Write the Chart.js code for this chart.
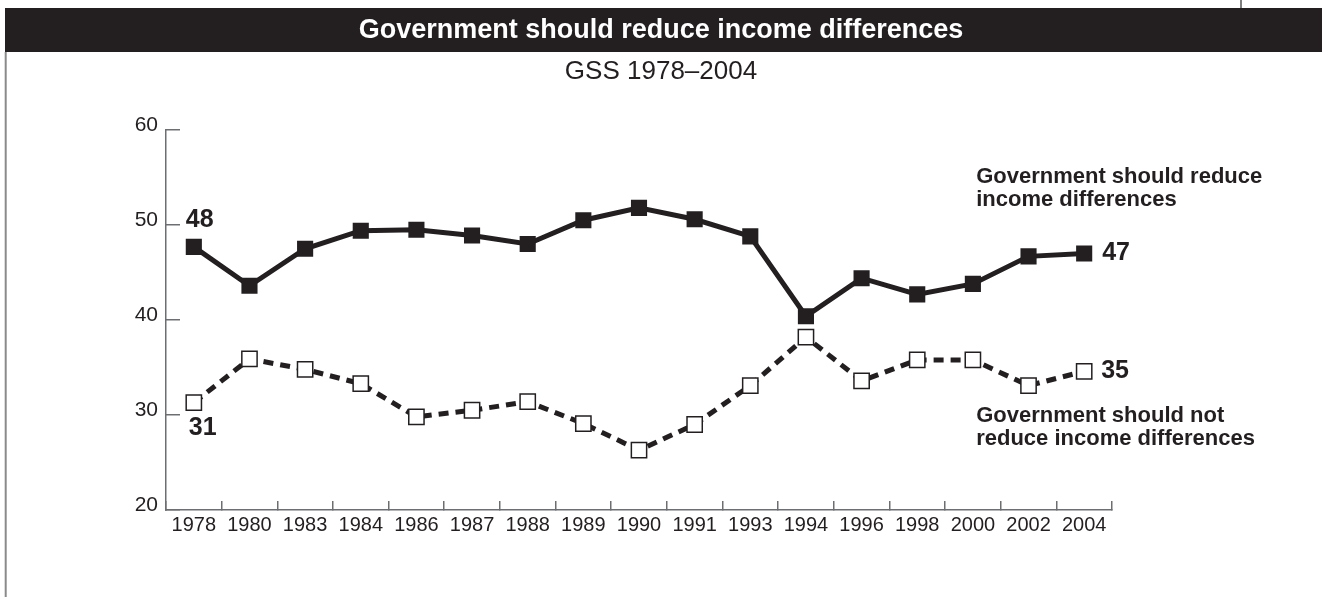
<!DOCTYPE html>
<html>
<head>
<meta charset="utf-8">
<script src="https://cdn.jsdelivr.net/npm/chart.js@4.4.1/dist/chart.umd.min.js"></script>
<style>
  html, body { margin: 0; padding: 0; background: #fff; }
  canvas { display: block; }
</style>
</head>
<body>
<canvas id="gss" width="1322" height="597"></canvas>
<script>
// GSS survey years
var years = ['1978', '1980', '1983', '1984', '1986', '1987', '1988', '1989', '1990',
    '1991', '1993', '1994', '1996', '1998', '2000', '2002', '2004'];

// percent saying government should / should not reduce income differences
var shouldReduce = [47.7, 43.6, 47.5, 49.4, 49.5, 48.9, 48.0, 50.5, 51.8,
    50.6, 48.8, 40.4, 44.4, 42.7, 43.8, 46.7, 47.0];
var shouldNotReduce = [31.3, 35.9, 34.8, 33.3, 29.8, 30.5, 31.4, 29.1, 26.3,
    29.0, 33.1, 38.2, 33.6, 35.8, 35.8, 33.1, 34.6];

var yTicks = [20, 30, 40, 50, 60];

var seriesNames = [
    ['Government should reduce', 'income differences'],
    ['Government should not', 'reduce income differences']
];

var ink = '#231f20';
var axisGrey = '#6d6e71';
var FONT = '"Liberation Sans", Arial, Helvetica, sans-serif';

// black title band and page frame lines
var frame = {
    id: 'frame',
    beforeDraw: function (chart) {
        var ctx = chart.ctx;
        ctx.save();
        ctx.fillStyle = '#fff';
        ctx.fillRect(0, 0, chart.width, chart.height);
        ctx.fillStyle = ink;
        ctx.fillRect(5, 8, chart.width - 5, 44);
        ctx.strokeStyle = '#8a8a8a';
        ctx.lineWidth = 2;
        ctx.beginPath();
        ctx.moveTo(5.7, 52);
        ctx.lineTo(5.7, chart.height);
        ctx.stroke();
        ctx.strokeStyle = '#555';
        ctx.lineWidth = 1.5;
        ctx.beginPath();
        ctx.moveTo(1241, 0);
        ctx.lineTo(1241, 8);
        ctx.stroke();
        ctx.restore();
    }
};

// end values and series names next to the lines
var annotate = {
    id: 'annotate',
    afterDatasetsDraw: function (chart) {
        var ctx = chart.ctx;
        var a = chart.getDatasetMeta(0).data;
        var b = chart.getDatasetMeta(1).data;
        var n = years.length - 1;
        ctx.save();
        ctx.fillStyle = ink;
        ctx.textAlign = 'left';
        ctx.textBaseline = 'middle';
        ctx.font = 'bold 25px ' + FONT;
        ctx.fillText(Math.round(shouldReduce[0]), a[0].x - 8, a[0].y - 27);
        ctx.fillText(Math.round(shouldNotReduce[0]), b[0].x - 5, b[0].y + 25);
        ctx.fillText(Math.round(shouldReduce[n]), a[n].x + 18, a[n].y);
        ctx.fillText(Math.round(shouldNotReduce[n]), b[n].x + 17, b[n].y);

        ctx.font = 'bold 22px ' + FONT;
        var lx = a[n].x - 108;
        ctx.fillText(seriesNames[0][0], lx, a[n].y - 77);
        ctx.fillText(seriesNames[0][1], lx, a[n].y - 54);
        ctx.fillText(seriesNames[1][0], lx, b[n].y + 45);
        ctx.fillText(seriesNames[1][1], lx, b[n].y + 68);
        ctx.restore();
    }
};

Chart.defaults.font.family = FONT;
Chart.defaults.color = ink;

var ctx = document.getElementById('gss').getContext('2d');
var chart = new Chart(ctx, {
    type: 'line',
    data: {
        labels: years,
        datasets: [{
            label: 'Government should reduce income differences',
            data: shouldReduce,
            borderColor: ink,
            borderWidth: 5,
            tension: 0,
            pointStyle: 'rect',
            pointRadius: 11.4,
            pointBackgroundColor: ink,
            pointBorderColor: ink,
            pointBorderWidth: 0
        }, {
            label: 'Government should not reduce income differences',
            data: shouldNotReduce,
            borderColor: ink,
            borderWidth: 5,
            borderDash: [10, 7],
            tension: 0,
            pointStyle: 'rect',
            pointRadius: 10.8,
            pointBackgroundColor: '#fff',
            pointBorderColor: ink,
            pointBorderWidth: 1.5
        }]
    },
    options: {
        responsive: false,
        animation: false,
        devicePixelRatio: 1,
        layout: { padding: { top: 8, left: 0, right: 0, bottom: 0 } },
        plugins: {
            legend: { display: false },
            tooltip: { enabled: false },
            title: {
                display: true,
                text: 'Government should reduce income differences',
                color: '#fff',
                font: { size: 27, weight: 'bold', lineHeight: 1.2 },
                padding: { top: 6, bottom: 5.6 }
            },
            subtitle: {
                display: true,
                text: 'GSS 1978\u20132004',
                color: ink,
                font: { size: 26, weight: 'normal', lineHeight: 1.2 },
                padding: { top: 4.5, bottom: 42.3 }
            }
        },
        scales: {
            x: {
                type: 'category',
                offset: true,
                grid: {
                    offset: true,
                    drawOnChartArea: false,
                    drawTicks: true,
                    tickLength: -9,
                    color: axisGrey,
                    lineWidth: 1.5
                },
                border: { display: true, color: axisGrey, width: 1.5 },
                ticks: {
                    color: ink,
                    font: { size: 20 },
                    padding: 12,
                    maxRotation: 0,
                    autoSkip: false
                },
                afterFit: function (s) { s.height = 87; }
            },
            y: {
                min: 20,
                max: 60,
                afterBuildTicks: function (s) {
                    s.ticks = yTicks.map(function (v) { return { value: v }; });
                },
                grid: {
                    drawOnChartArea: false,
                    drawTicks: true,
                    tickLength: -14,
                    color: axisGrey,
                    lineWidth: 1.5
                },
                border: { display: true, color: axisGrey, width: 1.5 },
                ticks: {
                    color: ink,
                    font: { size: 21 },
                    padding: 22,
                    labelOffset: -5
                },
                afterFit: function (s) { s.width = 166; }
            },
            right: {
                type: 'linear',
                position: 'right',
                display: true,
                grid: { display: false },
                border: { display: false },
                ticks: { display: false },
                afterFit: function (s) { s.width = 210; }
            }
        }
    },
    plugins: [frame, annotate]
});
</script>
</body>
</html>
